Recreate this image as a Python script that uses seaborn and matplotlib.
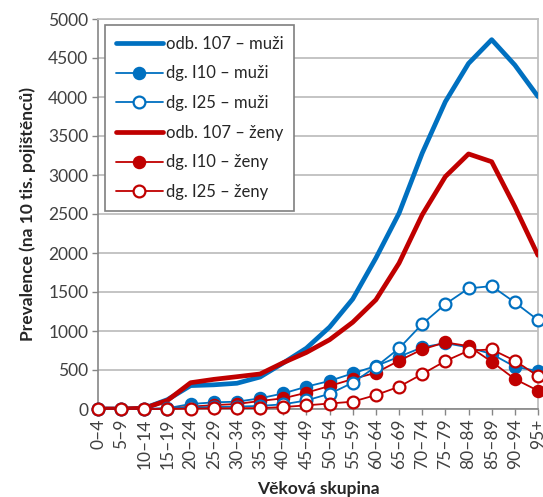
import matplotlib
matplotlib.use("Agg")
import matplotlib.pyplot as plt
import seaborn as sns
import numpy as np
import pandas as pd

sns.set_theme(style="white")
plt.rcParams["font.family"] = ["Lato", "DejaVu Sans"]

# Age groups
age_groups = ["0–4", "5–9", "10–14", "15–19", "20–24", "25–29", "30–34", "35–39",
              "40–44", "45–49", "50–54", "55–59", "60–64", "65–69", "70–74",
              "75–79", "80–84", "85–89", "90–94", "95+"]

# Prevalence per 10 000 insured persons
odb107_muzi = [0, 0, 10, 120, 300, 310, 330, 410, 590, 780, 1050, 1410, 1935,
               2510, 3280, 3940, 4430, 4735, 4410, 4005]
i10_muzi = [0, 0, 0, 10, 64, 85, 94, 137, 200, 286, 360, 457, 551, 670, 790,
            845, 790, 705, 542, 487]
i25_muzi = [0, 0, 0, 5, 20, 25, 30, 40, 60, 110, 195, 337, 542, 777, 1089,
            1345, 1546, 1576, 1366, 1140]
odb107_zeny = [0, 0, 10, 110, 337, 380, 414, 449, 594, 725, 888, 1112, 1400,
               1870, 2490, 2980, 3270, 3170, 2594, 1970]
i10_zeny = [0, 0, 0, 5, 30, 50, 64, 103, 137, 209, 295, 384, 465, 619, 764,
            854, 807, 606, 384, 235]
i25_zeny = [0, 0, 0, 0, 5, 8, 10, 12, 25, 47, 70, 94, 179, 286, 448, 615,
            747, 764, 619, 423]

BLUE = "#0070C0"
RED = "#C00000"

series = [
    ("odb. 107 – muži", odb107_muzi, BLUE, "thick"),
    ("dg. I10 – muži", i10_muzi, BLUE, "filled"),
    ("dg. I25 – muži", i25_muzi, BLUE, "open"),
    ("odb. 107 – ženy", odb107_zeny, RED, "thick"),
    ("dg. I10 – ženy", i10_zeny, RED, "filled"),
    ("dg. I25 – ženy", i25_zeny, RED, "open"),
]

fig = plt.figure(figsize=(5.43, 4.97), dpi=100)
ax = fig.add_axes([98 / 543, 1 - 409 / 497, 440 / 543, 390 / 497])

x = np.arange(len(age_groups))
for label, values, color, kind in series:
    df = pd.DataFrame({"x": x, "y": values})
    if kind == "thick":
        sns.lineplot(data=df, x="x", y="y", ax=ax, color=color, linewidth=3.4,
                     label=label, zorder=3)
    elif kind == "filled":
        sns.lineplot(data=df, x="x", y="y", ax=ax, color=color, linewidth=1.3,
                     marker="o", markersize=8.5, markerfacecolor=color,
                     markeredgecolor=color, markeredgewidth=1.2,
                     label=label, zorder=4, clip_on=False)
    else:
        sns.lineplot(data=df, x="x", y="y", ax=ax, color=color, linewidth=1.3,
                     marker="o", markersize=8.5, markerfacecolor="white",
                     markeredgecolor=color, markeredgewidth=1.6,
                     label=label, zorder=5, clip_on=False)

ax.set_xlim(0, len(age_groups) - 1)
ax.set_ylim(0, 5000)
ax.set_yticks(np.arange(0, 5001, 500))
ax.set_xticks(x)
ax.set_xticklabels(age_groups, rotation=90, fontsize=12.5, color="#404040")
ax.tick_params(axis="y", labelsize=12.5, labelcolor="#404040")
ax.tick_params(axis="both", which="major", direction="out", length=4,
               width=1, color="#868686", pad=3, left=True, bottom=True)

ax.grid(axis="y", color="#BFBFBF", linewidth=1.3)
ax.set_axisbelow(True)
for side in ("left", "bottom"):
    ax.spines[side].set_color("#868686")
    ax.spines[side].set_linewidth(1.2)
for side in ("top", "right"):
    ax.spines[side].set_color("#BFBFBF")
    ax.spines[side].set_linewidth(1.3)

ax.set_xlabel("Věková skupina", fontsize=12.5, fontweight="bold",
              color="#262626", labelpad=8)
ax.set_ylabel("Prevalence (na 10 tis. pojištěnců)", fontsize=12.5,
              fontweight="bold", color="#262626", labelpad=9)

leg = ax.legend(loc="upper left", bbox_to_anchor=(0.016, 0.985), fontsize=12,
                frameon=True, fancybox=False, framealpha=1, edgecolor="#7F7F7F",
                handlelength=2.8, handletextpad=0.2, labelspacing=0.82,
                borderpad=0.65, borderaxespad=0)
leg.get_frame().set_linewidth(1.2)
for t in leg.get_texts():
    t.set_color("#262626")

fig.savefig("out.png", dpi=100)
